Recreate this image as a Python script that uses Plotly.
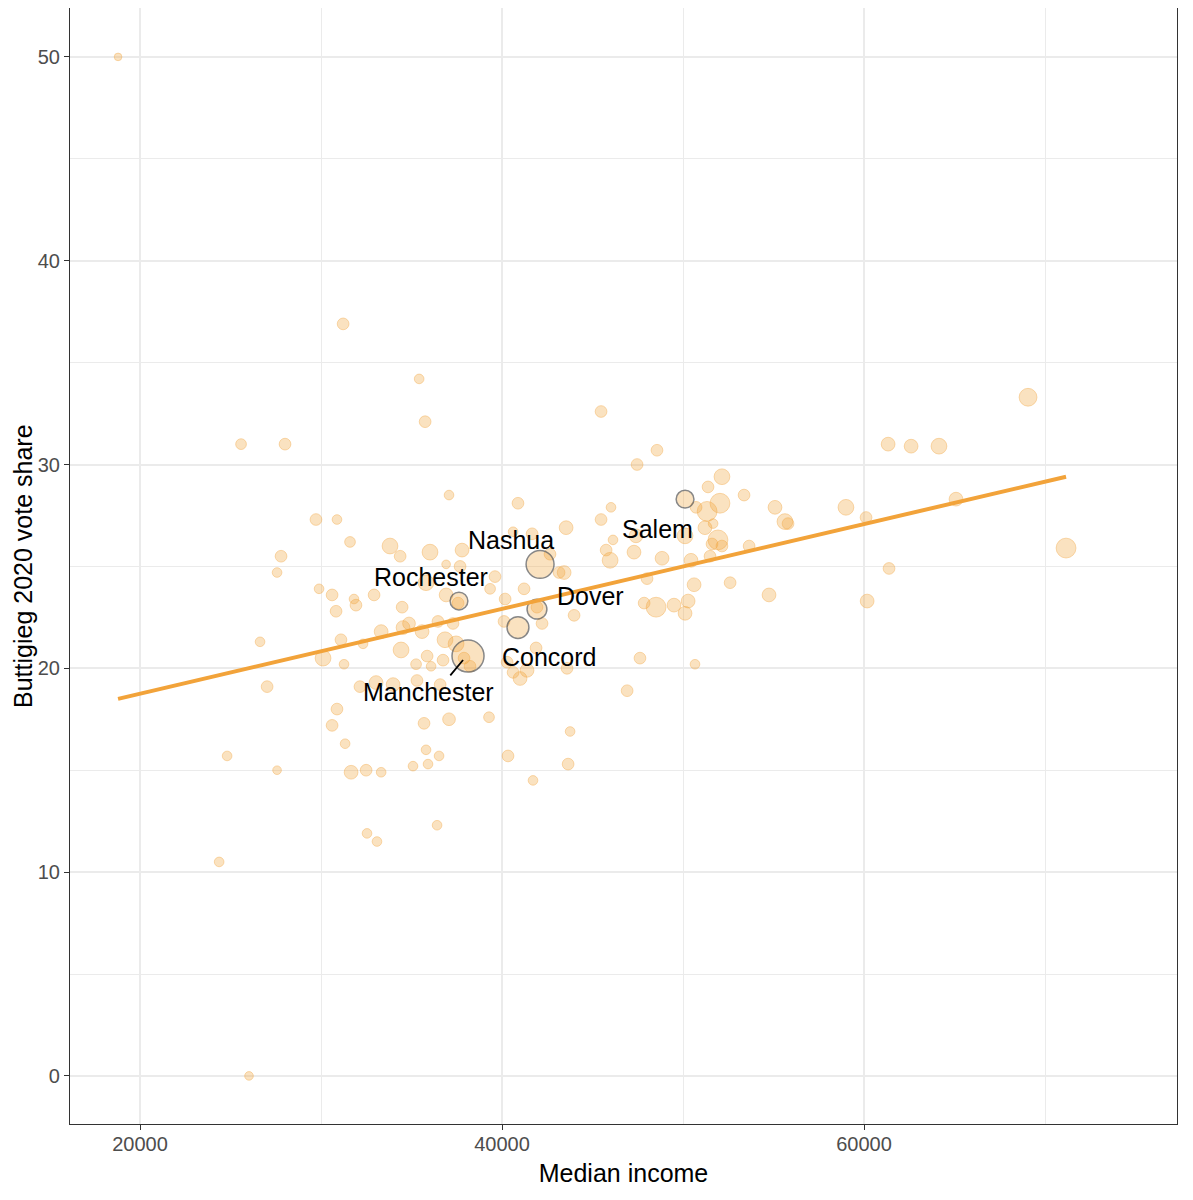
import numpy as np
import plotly.graph_objects as go

# town-level data: median income, Buttigieg vote share (%), ballots cast
income = [
    18785, 26020, 24370, 24810, 25580, 28010, 26630, 27020, 27570, 27570,
    27790, 29720, 29890, 30110, 30610, 30830, 30880, 31220, 30880, 30610,
    31100, 31270, 31330, 31600, 31660, 31820, 31930, 32150, 32320, 32540,
    32490, 33090, 33320, 32930, 33040, 33320, 33810, 33980, 34370, 34480,
    34420, 34530, 34860, 35080, 35250, 35420, 35580, 35690, 35750, 35800,
    35910, 35800, 36020, 35860, 36410, 36460, 36580, 36910, 36850, 37070,
    37070, 36910, 37680, 37460, 37790, 37900, 37290, 38230, 39280, 39340,
    39610, 40170, 40110, 40330, 40280, 40880, 40610, 41380, 40995, 41216,
    41660, 41710, 41880, 42210, 43150, 43430, 43540, 43590, 43760, 43650,
    43980, 45470, 45470, 45750, 45970, 46020, 46130, 46910, 47290, 47400,
    47460, 47620, 47850, 48010, 48510, 48560, 48840, 49500, 50110, 50280,
    50110, 50440, 50720, 50660, 50610, 51210, 51330, 51380, 51490, 51600,
    51930, 52040, 52150, 52150, 52600, 53370, 53650, 54750, 55080, 55630,
    55800, 59000, 60110, 60170, 61330, 61380, 62600, 64140, 65080, 69060,
    71160, 51660, 40610, 36520, 36740, 36080, 35300, 42650, 37570, 41930,
]
share = [
    50.0, 0.0, 10.5, 15.7, 31.0, 31.0, 21.3, 19.1, 15.0, 24.7,
    25.5, 27.3, 23.9, 20.5, 23.6, 22.8, 27.3, 36.9, 18.0, 17.2,
    21.4, 20.2, 16.3, 26.2, 14.9, 23.4, 23.1, 19.1, 21.2, 11.9,
    15.0, 11.5, 14.9, 23.6, 19.3, 21.8, 26.0, 19.2, 25.5, 23.0,
    20.9, 22.0, 22.2, 15.2, 20.2, 34.2, 21.8, 17.3, 32.1, 16.0,
    15.3, 24.2, 25.7, 20.6, 12.3, 22.3, 19.2, 23.6, 21.4, 28.5,
    17.5, 25.1, 25.0, 21.2, 25.8, 20.5, 22.2, 20.1, 17.6, 23.9,
    24.5, 23.4, 22.3, 15.7, 20.3, 28.1, 19.8, 19.9, 19.5, 23.9,
    26.6, 14.5, 21.0, 22.2, 24.7, 24.7, 26.9, 20.0, 16.9, 15.3,
    22.6, 32.6, 27.3, 25.8, 25.3, 27.9, 26.3, 18.9, 25.7, 26.5,
    30.0, 20.5, 23.2, 24.4, 23.0, 30.7, 25.4, 23.1, 26.5, 23.3,
    22.7, 25.3, 27.9, 20.2, 24.1, 26.9, 27.7, 28.9, 25.5, 26.1,
    26.3, 28.1, 29.4, 26.0, 24.2, 28.5, 26.0, 23.6, 27.9, 27.2,
    27.1, 27.9, 27.4, 23.3, 31.0, 24.9, 30.9, 30.9, 28.3, 33.3,
    25.9, 27.1, 26.7, 15.7, 20.4, 20.1, 19.4, 25.6, 23.2, 23.0,
]
ballots = [
    200, 220, 280, 280, 390, 530, 280, 530, 220, 280,
    530, 530, 280, 1510, 530, 530, 280, 530, 530, 530,
    530, 280, 280, 390, 940, 280, 530, 530, 280, 280,
    530, 280, 280, 530, 940, 940, 1510, 940, 530, 530,
    1510, 940, 710, 280, 390, 280, 940, 530, 530, 280,
    280, 1510, 1510, 530, 280, 530, 530, 940, 1510, 280,
    710, 220, 530, 1510, 940, 530, 530, 530, 390, 390,
    530, 530, 530, 530, 530, 530, 530, 940, 940, 530,
    530, 280, 530, 530, 530, 940, 940, 530, 280, 530,
    530, 530, 530, 530, 1510, 280, 280, 530, 940, 940,
    530, 530, 530, 530, 3150, 530, 940, 940, 1510, 940,
    940, 940, 530, 280, 940, 940, 3150, 530, 530, 530,
    3150, 3150, 1510, 530, 530, 530, 530, 940, 940, 1510,
    530, 1510, 530, 940, 940, 530, 940, 1510, 940, 2250,
    3150, 280, 280, 280, 530, 280, 530, 530, 530, 530,
]

# highlighted towns
towns = ['Manchester', 'Nashua', 'Concord', 'Dover', 'Rochester', 'Salem']
town_income = [38120, 42100, 40880, 41930, 37620, 50110]
town_share = [20.6, 25.1, 22.0, 22.9, 23.3, 28.3]
town_ballots = [12000, 8390, 4220, 3150, 2250, 2250]

# least-squares line as drawn in the original
fit_income = [18785, 71160]
fit_share = [18.5, 29.4]

ORANGE = '#F2A33A'
FILL = 'rgba(242,163,58,0.45)'


def radius(v):
    # ggplot-style area scale for the point radius (px)
    v = np.asarray(v, dtype=float)
    return 3.8 + 12.2 * np.sqrt((v - 200) / (12000 - 200))


fig = go.Figure()

fig.add_trace(go.Scatter(
    x=income, y=share, mode='markers',
    marker=dict(size=2 * radius(ballots), color=FILL,
                line=dict(color='rgba(242,163,58,0.6)', width=1)),
    hoverinfo='x+y', showlegend=False,
))

fig.add_trace(go.Scatter(
    x=town_income, y=town_share, mode='markers', text=towns,
    marker=dict(size=2 * radius(town_ballots), color=FILL,
                line=dict(color='#555555', width=1.5)),
    hoverinfo='text', showlegend=False,
))

fig.add_trace(go.Scatter(
    x=fit_income, y=fit_share, mode='lines',
    line=dict(color=ORANGE, width=4), hoverinfo='skip', showlegend=False,
))

# town labels (placed like ggrepel did)
label_pos = {
    'Nashua': (40497, 26.30),
    'Rochester': (36078, 24.48),
    'Salem': (48564, 26.84),
    'Dover': (44862, 23.55),
    'Concord': (42597, 20.56),
    'Manchester': (35912, 18.84),
}
for name, (lx, ly) in label_pos.items():
    fig.add_annotation(x=lx, y=ly, text=name, showarrow=False,
                       font=dict(size=25, color='black'))

# leader segment for Manchester
fig.add_annotation(x=37846, y=20.41, ax=37073, ay=19.58, axref='x', ayref='y',
                   text='', showarrow=True, arrowhead=0, arrowwidth=1.8,
                   arrowcolor='black')

# y axis title, placed by hand so it sits close to the page edge
fig.add_annotation(xref='paper', yref='paper', x=0, y=0.5, xshift=-47,
                   xanchor='center', yanchor='middle',
                   text='Buttigieg 2020 vote share', textangle=-90,
                   showarrow=False, font=dict(size=25, color='black'))

axis_common = dict(
    showline=True, mirror=True, linecolor='#333333', linewidth=1.2,
    showgrid=True, gridcolor='#EBEBEB', gridwidth=2,
    ticks='outside', ticklen=5, tickwidth=1.3, tickcolor='#333333',
    tickfont=dict(size=20, color='#4D4D4D'),
    zeroline=False, automargin=False,
)

fig.update_layout(
    width=1177, height=1184,
    margin=dict(l=62, r=8, t=0, b=68),
    plot_bgcolor='white', paper_bgcolor='white',
    font=dict(family='Liberation Sans, Arial, sans-serif'),
    xaxis=dict(axis_common, range=[16130, 77290], tick0=0, dtick=20000,
               tickformat='d', ticklabelstandoff=-3,
               minor=dict(dtick=10000, showgrid=True, gridcolor='#EBEBEB',
                          gridwidth=1, ticks=''),
               title=dict(text='Median income', font=dict(size=25, color='black'),
                          standoff=10)),
    yaxis=dict(axis_common, range=[-2.36, 52.4], tick0=0, dtick=10,
               minor=dict(dtick=5, showgrid=True, gridcolor='#EBEBEB',
                          gridwidth=1, ticks='')),
)

fig.write_html('out.html')
